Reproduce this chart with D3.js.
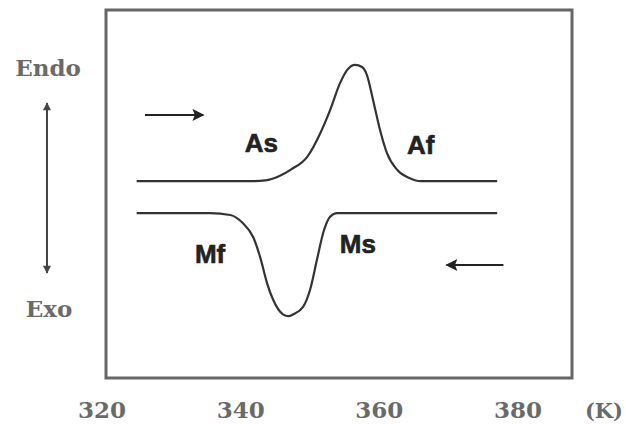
<!DOCTYPE html>
<html>
<head>
<meta charset="utf-8">
<script src="https://cdn.jsdelivr.net/npm/d3@7"></script>
<style>
  body { margin: 0; background: #fff; }
  svg { display: block; }
</style>
</head>
<body>
<div id="chart-area"></div>
<script>
// DSC curve - heating (upper) and cooling (lower)

const svgWidth = 626,
      svgHeight = 424;

// plot frame (pixels)
const frame = {left: 106, right: 572, top: 10, bottom: 378};

// data (temperature in K, heat flow in arbitrary units)
const heatTemp = [325.0, 335.0, 341.5, 343.6, 345.6, 347.3, 349.6, 351.5, 352.9, 354.3,
                  355.4, 356.5, 357.5, 358.2, 359.1, 360.1, 361.1, 362.6, 364.4, 365.9, 377.0];
const heatFlow = [53.5, 53.5, 53.5, 53.7, 54.9, 56.7, 60.1, 66.6, 72.8, 80.0,
                  83.8, 85.1, 84.5, 82.4, 75.5, 67.4, 61.1, 56.5, 54.3, 53.5, 53.5];

const coolTemp = [325.0, 335.6, 338.5, 340.3, 341.8, 342.8, 343.8, 344.7, 346.1, 346.9,
                  347.6, 349.0, 350.0, 351.0, 351.9, 352.9, 353.9, 377.0];
const coolFlow = [44.8, 44.8, 44.3, 42.1, 38.3, 32.9, 25.8, 21.2, 17.3, 16.8,
                  17.3, 19.3, 23.9, 32.1, 39.4, 43.8, 44.8, 44.8];

const tickValues = [320, 340, 360, 380];

// transformation labels [text, temp, flow]
const phaseLabels = [
  ["As", 340.6, 61.4],
  ["Af", 364.0, 60.9],
  ["Mf", 333.4, 31.3],
  ["Ms", 354.3, 34.0]
];

// direction arrows [fromTemp, toTemp, flow]
const dirArrows = [
  [326.2, 334.6, 71.5],
  [377.9, 369.7, 30.7]
];

var svg = d3.select("#chart-area")
    .append("svg")
    .attr("width", svgWidth)
    .attr("height", svgHeight);

var xScale = d3.scaleLinear()
    .domain([320, 380])
    .range([102, 518]);
var yScale = d3.scaleLinear()
    .domain([0, 100])
    .range([frame.bottom, frame.top]);

// arrow heads
var defs = svg.append("defs");
defs.append("marker")
    .attr("id", "head")
    .attr("viewBox", "0 0 10 10")
    .attr("refX", 9).attr("refY", 5)
    .attr("markerWidth", 8).attr("markerHeight", 6)
    .attr("markerUnits", "strokeWidth")
    .attr("orient", "auto")
    .append("path")
    .attr("d", "M0,0L10,5L0,10L2,5Z")
    .attr("fill", "#222");
defs.append("marker")
    .attr("id", "vhead")
    .attr("viewBox", "0 0 10 10")
    .attr("refX", 9).attr("refY", 5)
    .attr("markerWidth", 12).attr("markerHeight", 4)
    .attr("markerUnits", "strokeWidth")
    .attr("orient", "auto")
    .append("path")
    .attr("d", "M0,0L10,5L0,10Z")
    .attr("fill", "#444");

// frame
svg.append("rect")
    .attr("x", frame.left)
    .attr("y", frame.top)
    .attr("width", frame.right - frame.left)
    .attr("height", frame.bottom - frame.top)
    .attr("fill", "none")
    .attr("stroke", "#666")
    .attr("stroke-width", 3);

// curves
var line = d3.line()
    .x(function(d){ return xScale(d[0]); })
    .y(function(d){ return yScale(d[1]); })
    .curve(d3.curveMonotoneX);

svg.append("path")
    .datum(d3.zip(heatTemp, heatFlow))
    .attr("d", line)
    .attr("fill", "none")
    .attr("stroke", "#333")
    .attr("stroke-width", 2.2);

svg.append("path")
    .datum(d3.zip(coolTemp, coolFlow))
    .attr("d", line)
    .attr("fill", "none")
    .attr("stroke", "#333")
    .attr("stroke-width", 2.2);

// phase labels
svg.selectAll(".phase")
    .data(phaseLabels)
    .enter().append("text")
    .attr("class", "phase")
    .attr("x", function(d){ return xScale(d[1]); })
    .attr("y", function(d){ return yScale(d[2]); })
    .attr("font-family", "Liberation Sans, Arial, sans-serif")
    .attr("font-weight", "bold")
    .attr("font-size", "26px")
    .attr("fill", "#222")
    .attr("stroke", "#222")
    .attr("stroke-width", 0.6)
    .text(function(d){ return d[0]; });

// heating / cooling direction arrows
svg.selectAll(".dir")
    .data(dirArrows)
    .enter().append("line")
    .attr("class", "dir")
    .attr("x1", function(d){ return xScale(d[0]); })
    .attr("x2", function(d){ return xScale(d[1]); })
    .attr("y1", function(d){ return yScale(d[2]); })
    .attr("y2", function(d){ return yScale(d[2]); })
    .attr("stroke", "#222")
    .attr("stroke-width", 2)
    .attr("marker-end", "url(#head)");

// x tick labels
svg.selectAll(".tick-label")
    .data(tickValues)
    .enter().append("text")
    .attr("class", "tick-label")
    .attr("x", function(d){ return xScale(d); })
    .attr("y", 418)
    .attr("text-anchor", "middle")
    .attr("font-family", "DejaVu Serif, serif")
    .attr("font-weight", "bold")
    .attr("font-size", "23px")
    .attr("fill", "#6a6a6a")
    .text(function(d){ return d; });

svg.append("text")
    .attr("x", 623)
    .attr("y", 418)
    .attr("text-anchor", "end")
    .attr("font-family", "DejaVu Serif, serif")
    .attr("font-weight", "bold")
    .attr("font-size", "21px")
    .attr("fill", "#6a6a6a")
    .text("(K)");

// Endo / Exo axis
svg.append("text")
    .attr("x", 48)
    .attr("y", 76)
    .attr("text-anchor", "middle")
    .attr("font-family", "DejaVu Serif, serif")
    .attr("font-weight", "bold")
    .attr("font-size", "23px")
    .attr("fill", "#6a6a6a")
    .text("Endo");

svg.append("text")
    .attr("x", 49)
    .attr("y", 317)
    .attr("text-anchor", "middle")
    .attr("font-family", "DejaVu Serif, serif")
    .attr("font-weight", "bold")
    .attr("font-size", "23px")
    .attr("fill", "#6a6a6a")
    .text("Exo");

svg.append("line")
    .attr("x1", 47).attr("x2", 47)
    .attr("y1", 188).attr("y2", 103)
    .attr("stroke", "#444")
    .attr("stroke-width", 2)
    .attr("marker-end", "url(#vhead)");
svg.append("line")
    .attr("x1", 47).attr("x2", 47)
    .attr("y1", 188).attr("y2", 273)
    .attr("stroke", "#444")
    .attr("stroke-width", 2)
    .attr("marker-end", "url(#vhead)");
</script>
</body>
</html>
